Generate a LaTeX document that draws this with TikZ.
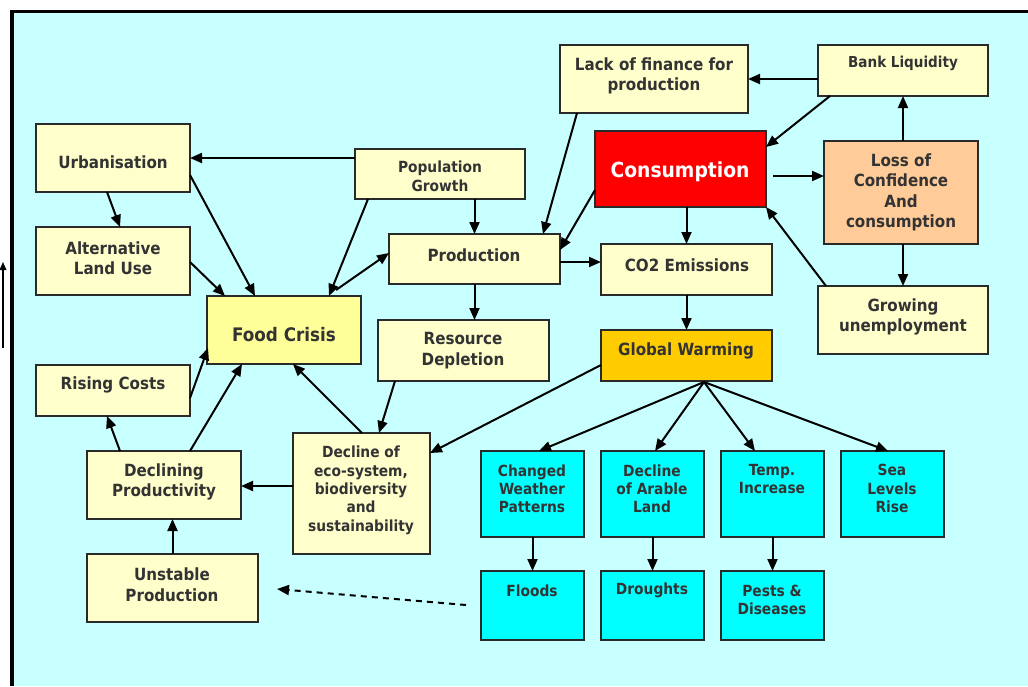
\documentclass[tikz,border=0pt]{standalone}
\usepackage{fontspec}
\setmainfont{DejaVu Sans Condensed}
\usetikzlibrary{arrows.meta,calc}
\definecolor{bgcyan}{HTML}{C8FFFF}
\definecolor{paleyellow}{HTML}{FFFFCC}
\definecolor{crisisyellow}{HTML}{FFFF99}
\definecolor{peach}{HTML}{FFCC99}
\definecolor{gold}{HTML}{FFCC00}
\definecolor{aqua}{HTML}{00FFFF}
\definecolor{inkgray}{HTML}{333333}
\definecolor{edgegray}{HTML}{2A2A2A}
\tikzset{
  boxbase/.style={draw=edgegray, line width=1.1pt, inner sep=0pt, outer sep=0pt},
  cream/.style={boxbase, fill=paleyellow},
  crisis/.style={boxbase, fill=crisisyellow},
  hot/.style={boxbase, fill=red},
  warm/.style={boxbase, fill=peach},
  golden/.style={boxbase, fill=gold},
  water/.style={boxbase, fill=aqua},
  txt/.style={align=center, inner sep=0pt, text=inkgray, yshift=-1.3pt,
    font=\bfseries\fontsize{11.5}{13.8}\selectfont},
  txtbig/.style={txt, font=\bfseries\fontsize{12.6}{15.2}\selectfont},
  arr/.style={line width=1.5pt, -{Triangle[length=9pt,width=7.5pt]}},
  dasharr/.style={arr, dash pattern=on 4.5pt off 3.8pt},
}
% \mybox{style}{name}{left}{top}{right}{bottom}, in pixels
\newcommand\mybox[6]{%
  \node[#1, minimum width={(#5-#3)*0.75pt}, minimum height={(#6-#4)*0.75pt}]
    (#2) at ({(#3+#5)/2},{(#4+#6)/2}) {};}
\begin{document}
\begin{tikzpicture}[x=0.75pt,y=-0.75pt]
\useasboundingbox (0,0) rectangle (1028,686);
\fill[white] (0,0) rectangle (1028,686);
\fill[bgcyan] (12,12) rectangle (1028,686);
\draw[line width=2.6pt] (12,686) -- (12,11.5) -- (1028,11.5);

% small arrow at the far left margin
\coordinate (mlow) at (3,348);
\coordinate (mhigh) at (3,262);
\draw[line width=1pt, -{Triangle[length=6pt,width=5pt]}] (mlow) -- (mhigh);

% boxes
\mybox{cream}{lack}{560}{45}{748}{113}
\mybox{cream}{bank}{818}{45}{988}{96}
\mybox{cream}{urb}{36}{124}{190}{192}
\mybox{cream}{pop}{355}{149}{525}{199}
\mybox{hot}{cons}{595}{131}{766}{207}
\mybox{warm}{loss}{824}{141}{978}{244}
\mybox{cream}{alt}{36}{227}{190}{295}
\mybox{cream}{prod}{389}{234}{560}{284}
\mybox{cream}{co2}{601}{244}{772}{295}
\mybox{crisis}{food}{207}{296}{361}{364}
\mybox{cream}{res}{378}{320}{549}{381}
\mybox{cream}{grow}{818}{286}{988}{354}
\mybox{golden}{gw}{601}{330}{772}{381}
\mybox{cream}{rising}{36}{365}{190}{416}
\mybox{cream}{eco}{293}{433}{430}{554}
\mybox{cream}{declp}{87}{451}{241}{519}
\mybox{water}{cwp}{481}{451}{584}{537}
\mybox{water}{dal}{601}{451}{704}{537}
\mybox{water}{temp}{721}{451}{824}{537}
\mybox{water}{sea}{841}{451}{944}{537}
\mybox{cream}{unst}{87}{554}{258}{622}
\mybox{water}{floods}{481}{571}{584}{640}
\mybox{water}{drou}{601}{571}{704}{640}
\mybox{water}{pests}{721}{571}{824}{640}

% texts
\node[txtbig] (lack-t) at (654,74) {Lack of finance for\\production};
\node[txt, font=\bfseries\fontsize{11.3}{13}\selectfont] (bank-t) at (903,62) {Bank Liquidity};
\node[txtbig] (urb-t) at (113,160) {Urbanisation};
\node[txt] (pop-t) at (440,174.5) {Population\\Growth};
\node[txt, text=white, font=\bfseries\fontsize{15.6}{18}\selectfont] (cons-t) at (680,170) {Consumption};
\node[txtbig] (loss-t) at (901,190.5) {Loss of\\Confidence\\And\\consumption};
\node[txtbig] (alt-t) at (113,256.5) {Alternative\\Land Use};
\node[txtbig] (prod-t) at (474,253) {Production};
\node[txtbig] (co2-t) at (687,263) {CO2 Emissions};
\node[txt, font=\bfseries\fontsize{14}{16}\selectfont] (food-t) at (284,333) {Food Crisis};
\node[txtbig] (res-t) at (463,349) {Resource\\Depletion};
\node[txtbig] (grow-t) at (903,315) {Growing\\unemployment};
\node[txtbig] (gw-t) at (686,349) {Global Warming};
\node[txtbig] (rising-t) at (113,383) {Rising Costs};
\node[txt] (eco-t) at (361,488.6) {Decline of\\eco-system,\\biodiversity\\and\\sustainability};
\node[txtbig] (declp-t) at (164,480.5) {Declining\\Productivity};
\node[txt] (cwp-t) at (532,487) {Changed\\Weather\\Patterns};
\node[txt] (dal-t) at (652,487) {Decline\\of Arable\\Land};
\node[txt] (temp-t) at (772,477.5) {Temp.\\Increase};
\node[txt] (sea-t) at (892,487) {Sea\\Levels\\Rise};
\node[txtbig] (unst-t) at (172,583) {Unstable\\Production};
\node[txt] (floods-t) at (532,589) {Floods};
\node[txt] (drou-t) at (652,589) {Droughts};
\node[txt] (pests-t) at (772,598) {Pests \&\\Diseases};

% connectors
\draw[arr] ($(bank.north west)+(0,34)$) -- ($(lack.north east)+(0,34)$);
\draw[arr] ($(bank.south west)+(12,0)$) -- ($(cons.north east)+(0,16)$);
\draw[arr] (bank.south |- loss.north) -- (bank.south);
\draw[arr] ($(cons.north east)+(7,45)$) -- ($(loss.north west)+(0,35)$);
\draw[arr] (grow.north |- loss.south) -- (grow.north);
\draw[arr] ($(grow.north west)+(8,0)$) -- (cons.south east);
\draw[arr] ($(lack.south west)+(17,0)$) -- ($(prod.north east)+(-17,0)$);
\draw[arr] ($(cons.south west)+(0,-17)$) -- ($(prod.north east)+(0,16)$);
\draw[arr] (co2.north |- cons.south) -- (co2.north);
\draw[arr] (co2.south) -- (gw.north);
\draw[arr] ($(prod.north east)+(0,28)$) -- ($(co2.north west)+(0,18)$);
\draw[arr] ($(pop.north west)+(0,9)$) -- (urb.east);
\draw[arr] (prod.north |- pop.south) -- (prod.north);
\draw[arr] ($(pop.south west)+(13,0)$) -- ($(food.north west)+(122,0)$);
\draw[arr] ($(food.north west)+(129,-6)$) -- ($(prod.north west)+(0,19)$);
\draw[arr] ($(urb.south west)+(71,0)$) -- ($(alt.north west)+(84,0)$);
\draw[arr] ($(urb.north east)+(0,51)$) -- ($(food.north west)+(48,0)$);
\draw[arr] ($(alt.north east)+(0,35)$) -- ($(food.north west)+(18,0)$);
\draw[arr] ($(rising.north east)+(0,33)$) -- ($(food.north west)+(1,52)$);
\draw[arr] ($(declp.north west)+(33,0)$) -- ($(rising.south west)+(71,0)$);
\draw[arr] ($(declp.north west)+(103,0)$) -- ($(food.south west)+(35,0)$);
\draw[arr] ($(eco.north west)+(69,0)$) -- ($(food.south west)+(86,0)$);
\draw[arr] ($(res.south west)+(17,0)$) -- ($(eco.north west)+(86,0)$);
\draw[arr] (prod.south) -- (prod.south |- res.north);
\draw[arr] ($(gw.north west)+(0,35)$) -- ($(eco.north east)+(0,20)$);
\draw[arr] ($(eco.north west)+(0,53)$) -- ($(declp.north east)+(0,35)$);
\draw[arr] (unst.north) -- (unst.north |- declp.south);
\coordinate (fan) at ($(gw.south west)+(103,1)$);
\draw[arr] (fan) -- ($(cwp.north west)+(58,0)$);
\draw[arr] (fan) -- ($(dal.north west)+(54,0)$);
\draw[arr] (fan) -- ($(temp.north west)+(34,0)$);
\draw[arr] (fan) -- ($(sea.north west)+(47,0)$);
\draw[arr] (cwp.south) -- (floods.north);
\draw[arr] (dal.south) -- (drou.north);
\draw[arr] (temp.south) -- (pests.north);
\draw[dasharr] ($(floods.north west)+(-15,34)$) -- ($(unst.north east)+(19,35)$);
\end{tikzpicture}
\end{document}
